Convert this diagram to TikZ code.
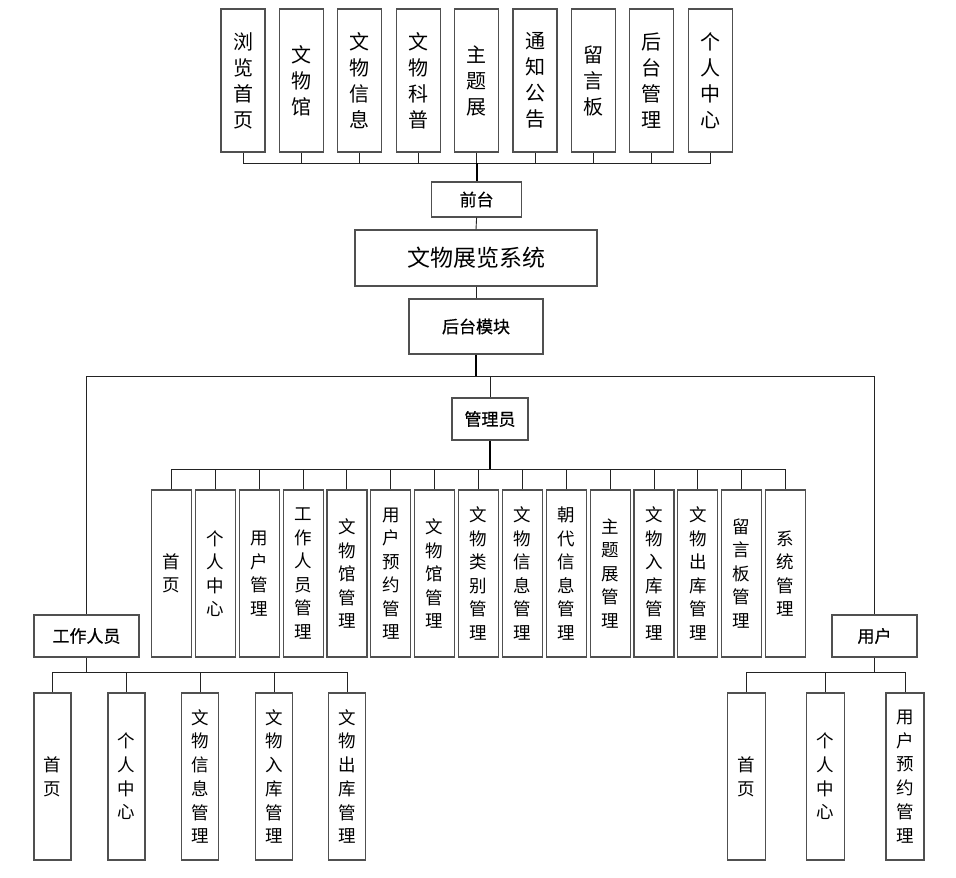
\documentclass[tikz,border=0pt]{standalone}
\usepackage{fontspec}
\setmainfont{Noto Sans CJK SC}
\newfontfamily\headfont{Noto Sans CJK SC}[FakeBold=0.6]
\usepackage{tikz}
\usetikzlibrary{positioning}
\definecolor{boxline}{RGB}{80,80,80}
\definecolor{linkdark}{RGB}{35,35,35}

\begin{document}
\begin{tikzpicture}[x=1pt, y=-1pt,
vbox/.style={draw=boxline, line width=1.2pt, fill=white, inner sep=0pt, align=center},
topbox/.style={vbox, minimum width=44pt, minimum height=143pt, font=\fontsize{20}{26}\selectfont},
admbox/.style={vbox, minimum width=40pt, minimum height=167pt, font=\fontsize{17.5}{23.5}\selectfont},
subbox/.style={vbox, minimum width=37pt, minimum height=167pt, font=\fontsize{17.5}{23.7}\selectfont},
hbox/.style={draw=boxline, line width=1.2pt, fill=white, inner sep=0pt, font=\headfont\fontsize{17}{20}\selectfont},
link/.style={draw=linkdark, line width=0.9pt},
trunk/.style={draw=black, line width=2pt}
]
\useasboundingbox (0,0) rectangle (956,878);

% front end
\node[topbox] (t1) at (243,80.5)   {浏\\览\\首\\页};
\node[topbox] (t2) at (301.4,80.5) {文\\物\\馆};
\node[topbox] (t3) at (359.8,80.5) {文\\物\\信\\息};
\node[topbox] (t4) at (418.2,80.5) {文\\物\\科\\普};
\node[topbox] (t5) at (476.6,80.5) {主\\题\\展};
\node[topbox] (t6) at (535,80.5)   {通\\知\\公\\告};
\node[topbox] (t7) at (593.4,80.5) {留\\言\\板};
\node[topbox] (t8) at (651.8,80.5) {后\\台\\管\\理};
\node[topbox] (t9) at (710.2,80.5) {个\\人\\中\\心};

\node[hbox, minimum width=90pt, minimum height=35pt] (qt) at (476.6,199.5) {前台};
\node[hbox, minimum width=242pt, minimum height=56pt, font=\fontsize{23}{26}\selectfont] (sys) at (476,258) {文物展览系统};
\node[hbox, minimum width=134pt, minimum height=55pt] (ht) at (476,326.5) {后台模块};

% roles
\node[hbox, minimum width=76pt, minimum height=42pt] (gly) at (490,419) {管理员};
\node[hbox, minimum width=105pt, minimum height=42pt] (gz) at (86.5,636) {工作人员};
\node[hbox, minimum width=85pt, minimum height=42pt] (yh) at (874.5,636) {用户};

% admin modules
\node[admbox] (a1)  at (171.5,573.5) {首\\页};
\node[admbox] (a2)  at (215.4,573.5) {个\\人\\中\\心};
\node[admbox] (a3)  at (259.2,573.5) {用\\户\\管\\理};
\node[admbox] (a4)  at (303.1,573.5) {工\\作\\人\\员\\管\\理};
\node[admbox] (a5)  at (346.9,573.5) {文\\物\\馆\\管\\理};
\node[admbox] (a6)  at (390.8,573.5) {用\\户\\预\\约\\管\\理};
\node[admbox] (a7)  at (434.7,573.5) {文\\物\\馆\\管\\理};
\node[admbox] (a8)  at (478.5,573.5) {文\\物\\类\\别\\管\\理};
\node[admbox] (a9)  at (522.4,573.5) {文\\物\\信\\息\\管\\理};
\node[admbox] (a10) at (566.2,573.5) {朝\\代\\信\\息\\管\\理};
\node[admbox] (a11) at (610.1,573.5) {主\\题\\展\\管\\理};
\node[admbox] (a12) at (654,573.5)   {文\\物\\入\\库\\管\\理};
\node[admbox] (a13) at (697.8,573.5) {文\\物\\出\\库\\管\\理};
\node[admbox] (a14) at (741.7,573.5) {留\\言\\板\\管\\理};
\node[admbox] (a15) at (785.5,573.5) {系\\统\\管\\理};

% staff modules
\node[subbox] (w1) at (52.5,776.5) {首\\页};
\node[subbox] (w2) at (126.5,776.5) {个\\人\\中\\心};
\node[subbox] (w3) at (200,776.5) {文\\物\\信\\息\\管\\理};
\node[subbox] (w4) at (274,776.5) {文\\物\\入\\库\\管\\理};
\node[subbox] (w5) at (347,776.5) {文\\物\\出\\库\\管\\理};

% user modules
\node[subbox, minimum width=38pt] (u1) at (746.5,776.5) {首\\页};
\node[subbox, minimum width=38pt] (u2) at (825.5,776.5) {个\\人\\中\\心};
\node[subbox, minimum width=38pt] (u3) at (905,776.5) {用\\户\\预\\约\\管\\理};

% bus points
\coordinate (tbus) at (476.6,163);
\coordinate (hub) at (476,376);
\coordinate (abus) at (490,469);
\coordinate (wbus) at (86.5,672);
\coordinate (ubus) at (874.5,672);

\draw[link] (t1.south) |- (tbus);
\draw[link] (t2.south) |- (tbus);
\draw[link] (t3.south) |- (tbus);
\draw[link] (t4.south) |- (tbus);
\draw[link] (t5.south) -- (tbus);
\draw[link] (t6.south) |- (tbus);
\draw[link] (t7.south) |- (tbus);
\draw[link] (t8.south) |- (tbus);
\draw[link] (t9.south) |- (tbus);
\draw[trunk] (tbus) -- (qt.north);

\draw[link] (qt.south) -- (sys.north);
\draw[link] (sys.south) -- (ht.north);
\draw[trunk] (ht.south) -- (hub);
\draw[link] (hub) -| (gz.north);
\draw[link] (hub) -| (yh.north);
\draw[link] (hub) -| (gly.north);

\draw[trunk] (gly.south) -- (abus);
\draw[link] (a1.north) |- (abus);
\draw[link] (a2.north) |- (abus);
\draw[link] (a3.north) |- (abus);
\draw[link] (a4.north) |- (abus);
\draw[link] (a5.north) |- (abus);
\draw[link] (a6.north) |- (abus);
\draw[link] (a7.north) |- (abus);
\draw[link] (a8.north) |- (abus);
\draw[link] (a9.north) |- (abus);
\draw[link] (a10.north) |- (abus);
\draw[link] (a11.north) |- (abus);
\draw[link] (a12.north) |- (abus);
\draw[link] (a13.north) |- (abus);
\draw[link] (a14.north) |- (abus);
\draw[link] (a15.north) |- (abus);

\draw[link] (gz.south) -- (wbus);
\draw[link] (w1.north) |- (wbus);
\draw[link] (w2.north) |- (wbus);
\draw[link] (w3.north) |- (wbus);
\draw[link] (w4.north) |- (wbus);
\draw[link] (w5.north) |- (wbus);

\draw[link] (yh.south) -- (ubus);
\draw[link] (u1.north) |- (ubus);
\draw[link] (u2.north) |- (ubus);
\draw[link] (u3.north) |- (ubus);

\end{tikzpicture}
\end{document}
